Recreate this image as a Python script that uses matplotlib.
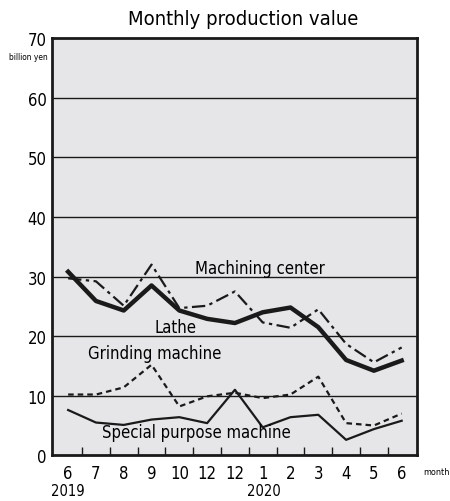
import numpy as np
import matplotlib.pyplot as plt

plt.rcParams['font.family'] = ['DejaVu Sans']
plt.rcParams['font.stretch'] = 'condensed'

months = ['6', '7', '8', '9', '10', '12', '12', '1', '2', '3', '4', '5', '6']
machining = [30.8, 25.9, 24.3, 28.5, 24.3, 22.9, 22.2, 24.0, 24.8, 21.5, 16.0, 14.2, 15.9]
lathe = [29.7, 29.2, 25.1, 32.0, 24.7, 25.1, 27.5, 22.3, 21.4, 24.5, 18.7, 15.6, 18.1]
grinding = [10.2, 10.2, 11.4, 15.2, 8.2, 9.9, 10.5, 9.6, 10.2, 13.2, 5.4, 5.0, 7.0]
special = [7.6, 5.5, 5.1, 6.0, 6.4, 5.4, 11.0, 4.7, 6.4, 6.8, 2.6, 4.4, 5.8]

x = np.arange(len(months))

fig = plt.figure(figsize=(4.5, 5.02), dpi=100)
ax = fig.add_axes([0.1156, 0.091, 0.811, 0.831])
ax.set_facecolor('#e6e6e8')

ax.plot(x, lathe, color='#1a1a1a', lw=1.6, ls=(0, (6, 2, 1.5, 2)))
ax.plot(x, grinding, color='#1a1a1a', lw=1.6, ls=(0, (2.5, 1.8)))
ax.plot(x, special, color='#1a1a1a', lw=1.6)
ax.plot(x, machining, color='#1a1a1a', lw=3.2)

for g in range(10, 70, 10):
    ax.axhline(g, color='#1a1a1a', lw=1.0, zorder=0)

ax.set_xlim(-0.58, 12.55)
ax.set_ylim(0, 70)
ax.set_yticks(range(0, 71, 10))
ax.tick_params(axis='y', length=0, labelsize=12, pad=4)
ax.set_xticks(x)
ax.set_xticklabels(months, fontsize=12)
ax.tick_params(axis='x', length=0, pad=6)
ax.set_xticks(x[:-1] + 0.5, minor=True)
ax.tick_params(axis='x', which='minor', direction='in', length=6, width=1.0, color='#1a1a1a')
for s in ax.spines.values():
    s.set_linewidth(2.0)
    s.set_color('#1a1a1a')

ax.text(6.9, 31.5, 'Machining center', fontsize=12, ha='center', va='center')
ax.text(3.85, 21.6, 'Lathe', fontsize=12, ha='center', va='center')
ax.text(3.1, 17.1, 'Grinding machine', fontsize=12, ha='center', va='center')
ax.text(4.6, 3.9, 'Special purpose machine', fontsize=12, ha='center', va='center')

fig.text(0.54, 0.962, 'Monthly production value', fontsize=14.5, ha='center', va='center')
fig.text(0.063, 0.886, 'billion yen', fontsize=6, ha='center', va='center')
fig.text(0.94, 0.058, 'month', fontsize=6.5, ha='left', va='center')
fig.text(0.15, 0.02, '2019', fontsize=10.5, ha='center', va='center')
fig.text(0.586, 0.02, '2020', fontsize=10.5, ha='center', va='center')

fig.savefig('out.png', dpi=100)
